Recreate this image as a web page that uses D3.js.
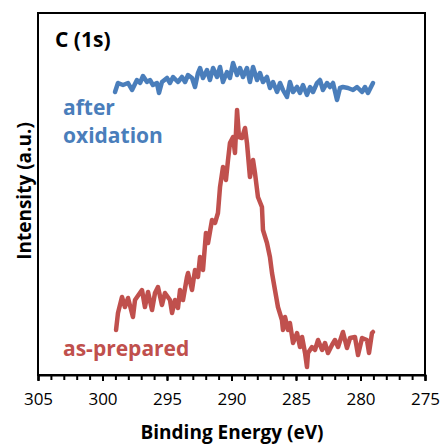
<!DOCTYPE html>
<html><head><meta charset="utf-8">
<script src="https://cdn.jsdelivr.net/npm/d3@7"></script>
<style>body{margin:0;background:#fff}svg{display:block}</style>
</head><body>
<script>
// Binding energy (eV) and intensity (a.u.)
const asPreparedE = [298.95,298.80,298.49,298.26,298.02,297.64,297.48,296.94,296.71,296.47,296.16,295.93,295.70,295.39,295.16,294.77,294.61,294.38,294.15,293.99,293.76,293.45,293.37,293.06,292.83,292.60,292.44,292.21,291.98,291.82,291.51,291.28,291.05,290.89,290.66,290.43,290.27,290.12,289.88,289.73,289.57,289.42,289.19,288.95,288.80,288.57,288.33,288.18,287.95,287.64,287.56,287.25,287.02,286.86,286.63,286.40,286.09,286.01,285.85,285.62,285.47,285.23,284.92,284.69,284.53,284.30,284.15,284.07,283.76,283.53,283.29,282.98,282.75,282.52,282.21,281.98,281.74,281.36,281.05,280.81,280.43,280.19,279.88,279.50,279.34,279.11,279.03];
const asPreparedI = [45,62,78,68,77,58,75,85,68,83,65,82,88,70,82,75,62,75,67,85,75,98,102,85,105,98,118,105,142,132,155,152,162,188,208,195,215,232,238,222,265,238,237,247,232,198,215,202,178,168,145,132,118,102,85,68,55,45,58,45,52,32,42,28,38,22,8,22,28,25,35,25,32,22,30,35,28,43,27,37,38,20,37,35,22,42,43];
const afterOxE = [299.03,298.80,298.41,298.02,297.71,297.33,297.09,296.86,296.55,296.32,296.09,295.78,295.62,295.39,295.00,294.77,294.53,294.15,293.84,293.60,293.37,293.06,292.83,292.60,292.44,292.21,291.90,291.67,291.43,291.12,290.89,290.66,290.35,290.12,289.88,289.57,289.34,289.11,288.80,288.57,288.33,288.02,287.79,287.56,287.25,287.02,286.78,286.47,286.24,286.01,285.70,285.47,285.23,284.92,284.69,284.46,284.15,283.91,283.68,283.37,283.14,282.91,282.60,282.36,282.13,281.82,281.59,281.36,280.97,280.58,280.27,279.88,279.65,279.42,279.11,279.03];
const afterOxI = [283,292,290,292,285,295,292,299,293,295,290,292,282,293,297,292,298,293,298,293,300,297,288,302,307,297,305,295,307,298,308,293,303,297,312,300,307,298,307,293,308,295,302,293,298,287,293,283,292,285,278,293,283,288,282,290,280,288,283,292,295,285,292,288,292,275,287,288,287,285,288,283,288,282,290,292];
const xTicks = [305,300,295,290,285,280,275];
const xTickLabels = ["305","300","295","290","285","280","275"];
const minorTicks = d3.range(275, 306, 1);

const W = 442, H = 446;
const m = {left:38, right:17, top:13, bottom:71};
const svg = d3.select("body").append("svg").attr("width", W).attr("height", H);
const x = d3.scaleLinear().domain([305, 275]).range([m.left, W - m.right]);
const y = d3.scaleLinear().domain([0, 362]).range([H - m.bottom, m.top]);
const font = "'Open Sans', 'Noto Sans', sans-serif";

// frame
svg.append("rect").attr("x", m.left).attr("y", m.top)
  .attr("width", W - m.right - m.left).attr("height", H - m.bottom - m.top)
  .attr("fill", "none").attr("stroke", "#000").attr("stroke-width", 2);

// minor ticks
const ax = svg.append("g").attr("transform", `translate(0,${H - m.bottom})`);
ax.call(d3.axisBottom(x).tickValues(minorTicks).tickSize(5).tickFormat(""))
  .call(g => g.select(".domain").remove())
  .call(g => g.selectAll("line").attr("stroke-width", 2));
const ax2 = svg.append("g").attr("transform", `translate(0,${H - m.bottom})`);
ax2.call(d3.axisBottom(x).tickValues(xTicks).tickSize(6).tickPadding(12).tickFormat((d, i) => xTickLabels[i]))
  .call(g => g.select(".domain").attr("stroke-width", 2))
  .call(g => g.selectAll("line").attr("stroke-width", 2))
  .call(g => g.selectAll("text").attr("font-family", font).attr("font-size", 17).attr("fill", "#000"));

const line = d3.line().x(d => x(d[0])).y(d => y(d[1]));
svg.append("path").datum(afterOxE.map((e, i) => [e, afterOxI[i]]))
  .attr("d", line).attr("fill", "none").attr("stroke", "#4a7ebb")
  .attr("stroke-width", 4.5).attr("stroke-linejoin", "round").attr("stroke-linecap", "round");
svg.append("path").datum(asPreparedE.map((e, i) => [e, asPreparedI[i]]))
  .attr("d", line).attr("fill", "none").attr("stroke", "#c0504d")
  .attr("stroke-width", 4.5).attr("stroke-linejoin", "round").attr("stroke-linecap", "round");

// texts
svg.append("text").attr("x", 55).attr("y", 47).text("C (1s)")
  .attr("font-family", font).attr("font-weight", "bold").attr("font-size", 21).attr("fill", "#000");
svg.append("text").attr("x", 63).attr("y", 115).text("after")
  .attr("font-family", font).attr("font-weight", "bold").attr("font-size", 21).attr("fill", "#4a7ebb");
svg.append("text").attr("x", 63).attr("y", 143).text("oxidation")
  .attr("font-family", font).attr("font-weight", "bold").attr("font-size", 21).attr("fill", "#4a7ebb");
svg.append("text").attr("x", 63).attr("y", 356).text("as-prepared")
  .attr("font-family", font).attr("font-weight", "bold").attr("font-size", 21).attr("fill", "#c0504d");
svg.append("text").attr("transform", "translate(31,191) rotate(-90)").attr("text-anchor", "middle")
  .text("Intensity (a.u.)").attr("font-family", font).attr("font-weight", "bold").attr("font-size", 19).attr("fill", "#000");
svg.append("text").attr("x", 232).attr("y", 439).attr("text-anchor", "middle")
  .text("Binding Energy (eV)").attr("font-family", font).attr("font-weight", "bold").attr("font-size", 19).attr("fill", "#000");
</script>
</body></html>
